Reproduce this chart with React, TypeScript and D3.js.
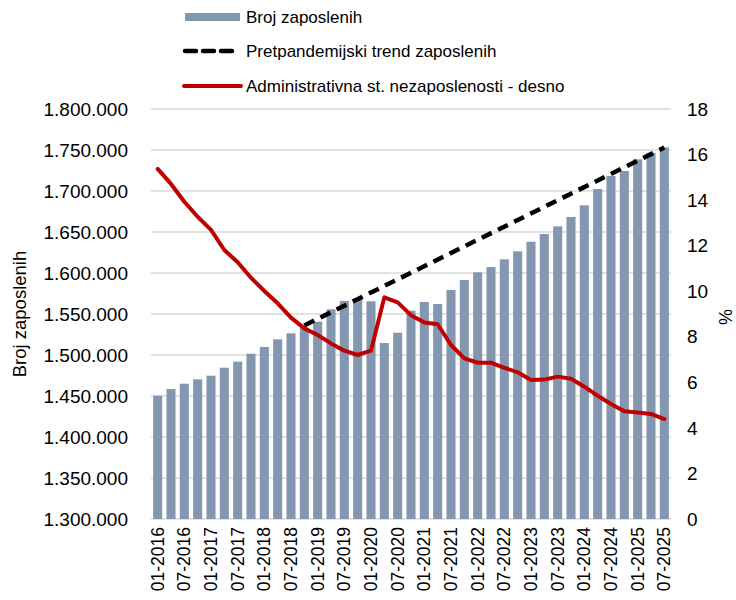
import React from "react";
import * as d3 from "d3";

// quarterly periods, 01-2016 .. 07-2025
const periods = [
  "01-2016", "04-2016", "07-2016", "10-2016",
  "01-2017", "04-2017", "07-2017", "10-2017",
  "01-2018", "04-2018", "07-2018", "10-2018",
  "01-2019", "04-2019", "07-2019", "10-2019",
  "01-2020", "04-2020", "07-2020", "10-2020",
  "01-2021", "04-2021", "07-2021", "10-2021",
  "01-2022", "04-2022", "07-2022", "10-2022",
  "01-2023", "04-2023", "07-2023", "10-2023",
  "01-2024", "04-2024", "07-2024", "10-2024",
  "01-2025", "04-2025", "07-2025",
];

// Broj zaposlenih
const employed = [
  1450400, 1458500, 1465000, 1470300,
  1474800, 1484500, 1491900, 1501600,
  1509800, 1519100, 1526400, 1533000,
  1540600, 1555700, 1565900, 1568000,
  1565500, 1514600, 1527200, 1554000,
  1564600, 1562200, 1579300, 1591500,
  1600800, 1607300, 1616700, 1626400,
  1638200, 1647600, 1656900, 1668300,
  1682500, 1702400, 1718300, 1724400,
  1738600, 1746500, 1753300,
];

// Administrativna stopa nezaposlenosti (%)
const unemployment = [
  15.37, 14.71, 13.93, 13.27,
  12.69, 11.81, 11.27, 10.59,
  10.01, 9.47, 8.84, 8.37,
  8.08, 7.71, 7.39, 7.2,
  7.39, 9.73, 9.51, 8.95,
  8.63, 8.55, 7.64, 7.05,
  6.86, 6.86, 6.64, 6.44,
  6.1, 6.12, 6.25, 6.16,
  5.81, 5.41, 5.05, 4.73,
  4.68, 4.61, 4.39,
];

// Pretpandemijski trend (start and end of the straight trend)
const trendPeriods = ["10-2018", "07-2025"];
const trendValues = [1536000, 1753000];

const leftTicks = [1300000, 1350000, 1400000, 1450000, 1500000, 1550000, 1600000, 1650000, 1700000, 1750000, 1800000];
const rightTicks = [0, 2, 4, 6, 8, 10, 12, 14, 16, 18];

const W = 736;
const H = 600;
const plot = { left: 151, right: 671, top: 109, bottom: 519 };
const font = "Arial, 'Liberation Sans', sans-serif";
const barColor = "#8497b0";
const red = "#c00000";
const grid = "#d9d9d9";

export default function App() {
  const x = d3.scaleBand<string>()
    .domain(periods)
    .range([plot.left, plot.right])
    .paddingInner(0.32)
    .paddingOuter(0.16);
  const yL = d3.scaleLinear().domain([1300000, 1800000]).range([plot.bottom, plot.top]);
  const yR = d3.scaleLinear().domain([0, 18]).range([plot.bottom, plot.top]);
  const cx = (p: string) => (x(p) as number) + x.bandwidth() / 2;
  const fmt = (v: number) => d3.format(",")(v).replace(/,/g, ".");

  const redLine = d3.line<number>()
    .x((_, i) => cx(periods[i]))
    .y((d) => yR(d))(unemployment) as string;

  const trendLine = d3.line<number>()
    .x((_, i) => cx(trendPeriods[i]))
    .y((d) => yL(d))(trendValues) as string;

  return (
    <svg width={W} height={H} style={{ position: "absolute", left: 0, top: 0, background: "#fff" }} fontFamily={font}>
      {/* gridlines */}
      {leftTicks.map((t) => (
        <line key={t} x1={plot.left} x2={plot.right} y1={yL(t)} y2={yL(t)} stroke={grid} strokeWidth={1.5} />
      ))}

      {/* bars */}
      {periods.map((p, i) => (
        <rect key={p} x={x(p)} y={yL(employed[i])} width={x.bandwidth()} height={plot.bottom - yL(employed[i])} fill={barColor} />
      ))}

      <path d={trendLine} fill="none" stroke="#000" strokeWidth={4.5} strokeDasharray="11 7" />
      <path d={redLine} fill="none" stroke={red} strokeWidth={4} strokeLinejoin="round" strokeLinecap="round" />

      {/* left axis */}
      {leftTicks.map((t) => (
        <text key={t} x={128} y={yL(t)} dy="0.35em" textAnchor="end" fontSize={19} fill="#000">{fmt(t)}</text>
      ))}
      <text transform={`translate(26,${(plot.top + plot.bottom) / 2}) rotate(-90)`} textAnchor="middle" fontSize={18.5} fill="#000">Broj zaposlenih</text>

      {/* right axis */}
      {rightTicks.map((t) => (
        <text key={t} x={687} y={yR(t)} dy="0.35em" textAnchor="start" fontSize={19} fill="#000">{t}</text>
      ))}
      <text transform={`translate(732,${(plot.top + plot.bottom) / 2 + 3}) rotate(-90)`} textAnchor="middle" fontSize={18} fill="#000">%</text>

      {/* x labels */}
      {periods.filter((p) => p.startsWith("01") || p.startsWith("07")).map((p) => (
        <text key={p} transform={`translate(${cx(p)},${plot.bottom + 8}) rotate(-90)`} dy="0.35em" textAnchor="end" fontSize={17.5} fill="#000">{p}</text>
      ))}

      {/* legend */}
      <rect x={185} y={13} width={55} height={8} fill={barColor} />
      <text x={246} y={17} dy="0.35em" fontSize={17} fill="#000">Broj zaposlenih</text>
      <line x1={185} x2={238} y1={51} y2={51} stroke="#000" strokeWidth={4.5} strokeDasharray="11 7" strokeLinecap="round" />
      <text x={246} y={51} dy="0.35em" fontSize={17} fill="#000">Pretpandemijski trend zaposlenih</text>
      <line x1={184} x2={241} y1={86} y2={86} stroke={red} strokeWidth={4} strokeLinecap="round" />
      <text x={246} y={86} dy="0.35em" fontSize={17} fill="#000">Administrativna st. nezaposlenosti - desno</text>
    </svg>
  );
}
